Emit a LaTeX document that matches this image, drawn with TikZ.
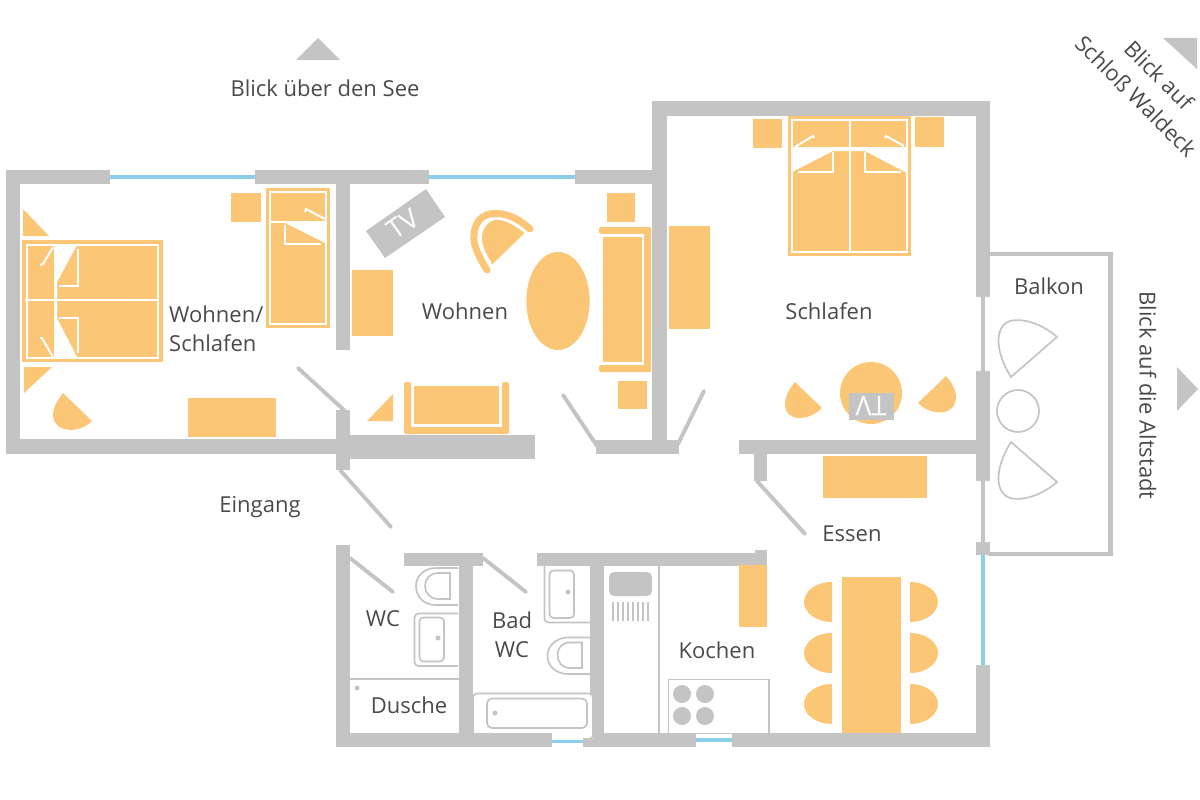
\documentclass[tikz,border=0pt]{standalone}
\usepackage{fontspec}
\setmainfont{Open Sans}
\definecolor{wallgray}{HTML}{C4C4C4}
\definecolor{furn}{HTML}{FBC776}
\definecolor{glass}{HTML}{8AD0EA}
\definecolor{inktext}{HTML}{4A4A4A}
\tikzset{
  wall/.style={fill=wallgray},
  pane/.style={fill=glass},
  door/.style={draw=wallgray, line width=3.9pt, line cap=round},
  mobel/.style={fill=furn},
  fold/.style={draw=white, line width=2pt},
  gap/.style={fill=white},
  fixture/.style={draw=wallgray, line width=1.7pt},
  lbl/.style={text=inktext, font=\fontsize{22}{29}\selectfont, inner sep=0pt, align=left},
  tvlbl/.style={text=white, font=\fontsize{27}{30}\selectfont, inner sep=0pt}
}
\begin{document}
\begin{tikzpicture}[x=1pt, y=-1pt]
\useasboundingbox (0,0) rectangle (1200,800);
% walls
\foreach \xa/\ya/\xb/\yb in {6/170/110/184, 255/170/429/184, 575/170/667/184, 6/170/20/454, 6/439/336/454, 336/184/350/350, 336/410/350/470, 336/435/535/459, 652/101/667/454, 653/101/990/116, 596/440/679/454, 976/101/990/297, 976/371/990/481, 976/542/990/555, 976/665/990/747, 981/297/985/371, 981/481/985/542, 739/440/976/454, 754/454/767/481, 336/545/350/747, 404/553/483/566, 459/566/473/733, 537/553/767/566, 755/550/767/566, 590/566/604/733, 336/733/552/747, 583/733/696/747, 732/733/990/747}
  \fill[wall] (\xa,\ya) rectangle (\xb,\yb);
\draw[wallgray, line width=4.4pt] (988,254) -- (1110.5,254) -- (1110.5,554) -- (988,554);
% windows
\foreach \xa/\ya/\xb/\yb in {110/175/255/179, 429/175/575/179, 981/555/985/665, 552/740/583/743, 696/738/732/742}
  \fill[pane] (\xa,\ya) rectangle (\xb,\yb);
% doors
\draw[door] (298,368) -- (345,411);
\draw[door] (340,470) -- (391,527);
\draw[door] (757,481) -- (805,534);
\draw[door] (350,558) -- (393,592);
\draw[door] (483,558) -- (526,592);
\draw[door] (563,395) -- (597,446);
\draw[door] (704,391) -- (678,444);
% view arrows
\fill[wall] (296,60) -- (340,60) -- (318,38) -- cycle;
\fill[wall] (1177,367) -- (1198,389) -- (1177,411) -- cycle;
\fill[wall] (1163,38) -- (1197,38) -- (1197,69) -- cycle;
% bed left
\fill[mobel] (22,240) rectangle (163,362);
\draw[fold] (26.5,244.5) rectangle (158,357.5);
\draw[fold] (25,300) -- (159,300);
\fill[gap] (54,245) -- (77,245) -- (57,282) -- (57,318) -- (77,357) -- (54,357) -- cycle;
\draw[fold] (78,249) -- (78,286) -- (59,286);
\draw[fold] (59,318) -- (78,318) -- (78,353);
\draw[fold] (53,247) -- (43,264) -- (40,265);
\draw[fold] (53,357) -- (42,338) -- (40,338);
\fill[mobel] (23,209) -- (23,236) -- (49,236) -- cycle;
\fill[mobel] (24,367) -- (52,367) -- (24,393) -- cycle;
\fill[mobel] (63,393) -- (92,421) .. controls (78,435) and (53,432) .. (53,415) .. controls (53,408) and (57,401) .. (63,393) -- cycle;
\fill[mobel] (188,398) rectangle (276,437);
\fill[mobel] (231,193) rectangle (261,222);
% single bed
\fill[mobel] (266,188) rectangle (330,328);
\draw[fold] (270,192) rectangle (326,324);
\draw[fold] (269,222) -- (327,222);
\fill[gap] (285,223) -- (325,243) -- (325,223) -- cycle;
\draw[fold] (285,225) -- (285,244) -- (321,244);
\draw[fold] (325,219) -- (306,209) -- (305,212);
% wohnen
\fill[wall] (426,189) -- (445,217) -- (385,258) -- (366,231) -- cycle;
\node[tvlbl, rotate=35] (tvwohnen) at (403,224) {TV};
\fill[mobel] (352,270) rectangle (393,336);
\draw[furn, line width=7pt, line cap=round] (530,229) .. controls (515,215) and (500,212) .. (490,214) .. controls (478,216) and (473,228) .. (474,240) .. controls (475,250) and (482,262) .. (487,270);
\draw[white, line width=1.6pt, fill=furn] (526,233) .. controls (515,224) and (505,219) .. (497,219) .. controls (488,219) and (481,228) .. (481,238) .. controls (481,248) and (488,258) .. (492,266) -- cycle;
\fill[mobel] (558,301) ellipse (31.7 and 49);
\fill[mobel] (607,193) rectangle (635,222);
\fill[mobel] (618,381) rectangle (647,409);
\fill[mobel] (669,226) rectangle (710,329);
% sofa right
\fill[mobel, rounded corners=2pt] (599,227) rectangle (651,234);
\fill[mobel, rounded corners=2pt] (599,365) rectangle (651,372);
\fill[mobel] (644,227) rectangle (651,372);
\fill[mobel] (603,237) rectangle (642,362);
\draw[fold] (603,235) -- (643,235) -- (643,363.5) -- (603,363.5);
% sofa bottom
\fill[mobel, rounded corners=2pt] (404,382) rectangle (411,434);
\fill[mobel, rounded corners=2pt] (502,382) rectangle (509,434);
\fill[mobel, rounded corners=2pt] (404,427) rectangle (509,434);
\fill[mobel] (414,386) rectangle (499,424);
\draw[fold] (412.5,386) -- (412.5,425.5) -- (500.5,425.5) -- (500.5,386);
\fill[mobel] (393,394) -- (393,421) -- (367,421) -- cycle;
% bed schlafen
\fill[mobel] (788,116) rectangle (911,256);
\draw[fold] (792,120) rectangle (907,252);
\draw[fold] (850,119) -- (850,253);
\draw[fold] (792,148) -- (907,148);
\fill[gap] (792,148) -- (849,148) -- (849,151) -- (833,151) -- (792,172) -- cycle;
\fill[gap] (851,148) -- (907,148) -- (907,173) -- (865,151) -- (851,151) -- cycle;
\draw[fold] (833,152) -- (833,172) -- (798,172);
\draw[fold] (865,152) -- (865,172) -- (901,172);
\draw[fold] (795,147) -- (813,136) -- (814,138);
\draw[fold] (904,146) -- (886,136) -- (885,138);
\fill[mobel] (753,119) rectangle (782,148);
\fill[mobel] (915,117) rectangle (944,147);
% table schlafen
\fill[mobel] (871,393) circle (31);
\fill[wall] (849,393) rectangle (894,420);
\node[tvlbl, rotate=180] (tvschlafen) at (871,406) {TV};
\fill[mobel] (795,382) -- (822,408) .. controls (808,422) and (785,422) .. (785,404) .. controls (785,396) and (790,388) .. (795,382) -- cycle;
\fill[mobel] (946,376) -- (918,403) .. controls (932,417) and (956,416) .. (956,397) .. controls (956,389) and (951,382) .. (946,376) -- cycle;
% balkon
\draw[fixture] (1011,377) -- (1057,337) .. controls (1040,322) and (1020,318) .. (1010,321) .. controls (995,326) and (994,350) .. (1011,377) -- cycle;
\draw[fixture] (1018,411) circle (21);
\draw[fixture] (1011,442) -- (1057,482) .. controls (1040,497) and (1020,501) .. (1010,498) .. controls (995,493) and (994,469) .. (1011,442) -- cycle;
% essen
\fill[mobel] (823,456) rectangle (927,498);
\fill[mobel] (739,565) rectangle (767,627);
\fill[mobel] (842,577) rectangle (901,733);
\foreach \cy in {602,653,704} {
  \fill[mobel] (832,\cy-20) .. controls (815,\cy-20) and (804,\cy-10) .. (804,\cy) .. controls (804,\cy+10) and (815,\cy+20) .. (832,\cy+20) -- cycle;
  \fill[mobel] (910,\cy-20) .. controls (927,\cy-20) and (938,\cy-10) .. (938,\cy) .. controls (938,\cy+10) and (927,\cy+20) .. (910,\cy+20) -- cycle;
}
% bath fixtures
\begin{scope}[fixture]
\draw (458,568) -- (436,568) .. controls (424,568) and (416,576) .. (416,586) .. controls (416,597) and (424,605) .. (436,605) -- (458,605);
\draw (450,573) -- (438,573) .. controls (430,573) and (425,579) .. (425,586) .. controls (425,593) and (430,599) .. (438,599) -- (450,599) -- cycle;
\draw[rounded corners=4pt] (458,613.5) -- (414.5,613.5) -- (414.5,666) -- (458,666);
\draw[rounded corners=4pt] (419.5,617.5) rectangle (444,661.5);
\draw (350,679) -- (459,679);
\draw[rounded corners=4pt] (544.5,566) -- (544.5,622.5) -- (590,622.5);
\draw[rounded corners=4pt] (549.5,570.5) rectangle (574,618);
\draw (590,637.5) -- (568,637.5) .. controls (556,637.5) and (547.5,646) .. (547.5,656) .. controls (547.5,666) and (556,674) .. (568,674) -- (590,674);
\draw (582,642.5) -- (570,642.5) .. controls (562,642.5) and (557.5,648) .. (557.5,655) .. controls (557.5,662) and (562,668) .. (570,668) -- (582,668) -- cycle;
\fill[white] (552,733) rectangle (593,739);
\draw[rounded corners=4pt, fill=white] (473,733) -- (473,693.5) -- (593,693.5) -- (593,739) -- (583,739);
\fill[wall] (473,733) rectangle (552,738);
\draw[rounded corners=5pt] (487,698.5) rectangle (587,728);
\draw (659,566) -- (659,733);
\draw (668.5,679.5) rectangle (769,733.5);
\end{scope}
\foreach \dx/\dy in {438/638, 357/688, 568/592, 495/713}
  \fill[wall] (\dx,\dy) circle (2.5);
% kitchen
\fill[wall, rounded corners=5pt] (609,572) rectangle (652,596);
\foreach \gx in {0,...,7}
  \draw[wallgray, line width=1.6pt] (613+5*\gx,602) -- (613+5*\gx,621);
\foreach \bx/\by in {682/694, 705/694, 682/716, 705/716}
  \fill[wall] (\bx,\by) circle (9);
% labels
\node[lbl, anchor=west] (wohnenschlafen) at (169,328.5) {Wohnen/\\Schlafen};
\node[lbl] (wohnen) at (465,311) {Wohnen};
\node[lbl] (schlafen) at (829,311) {Schlafen};
\node[lbl] (balkon) at (1049,286) {Balkon};
\node[lbl] (eingang) at (260,507) {Eingang};
\node[lbl] (essen) at (852,534) {Essen};
\node[lbl] (wc) at (383,619) {WC};
\node[lbl, align=center] (badwc) at (512,635) {Bad\\WC};
\node[lbl] (dusche) at (409,705) {Dusche};
\node[lbl] (kochen) at (717,650) {Kochen};
\node[lbl] (blicksee) at (325,88) {Blick über den See};
\node[lbl, rotate=-90] (blickalt) at (1148,395.5) {Blick auf die Altstadt};
\node[lbl, rotate=-45] (blickauf) at (1159,75) {Blick auf};
\node[lbl, rotate=-45] (blickschloss) at (1136,96) {Schloß Waldeck};
\end{tikzpicture}
\end{document}
